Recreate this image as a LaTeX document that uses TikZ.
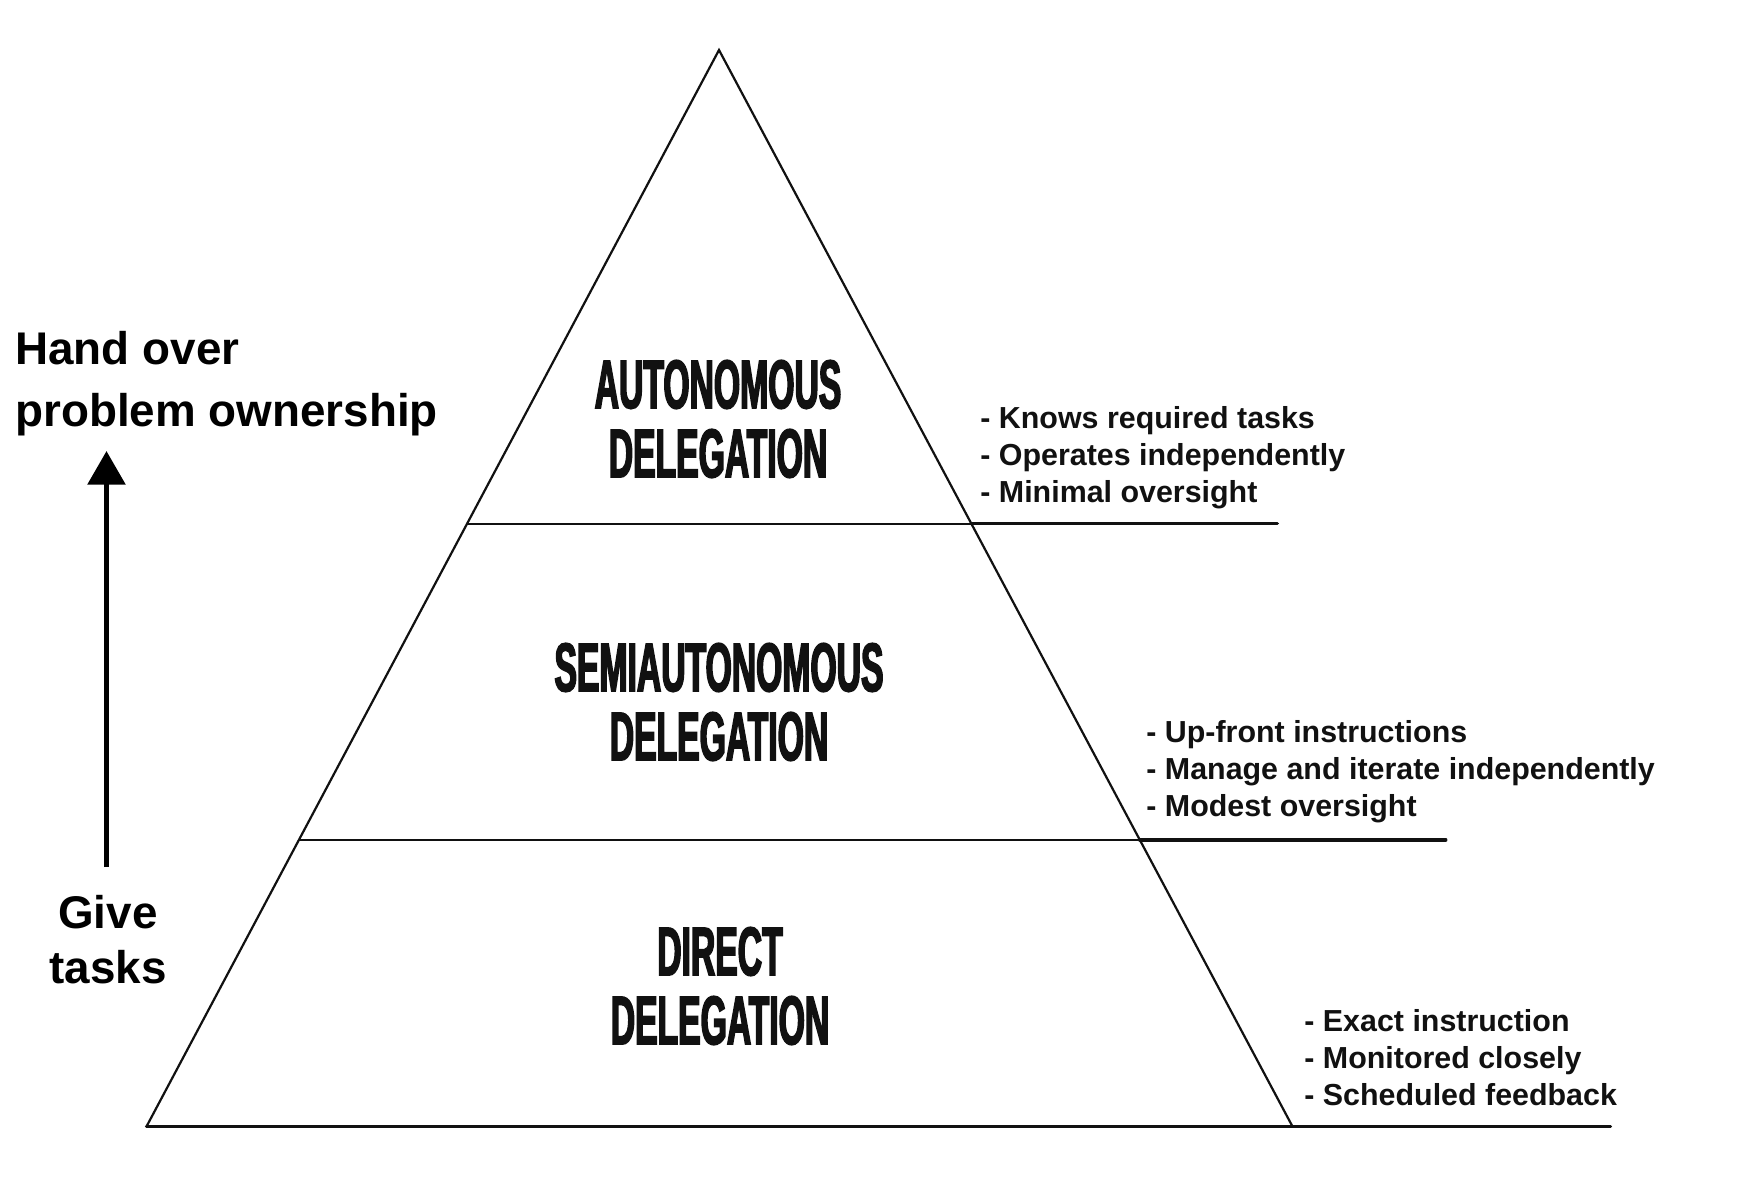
\documentclass[tikz,border=0pt]{standalone}
\usepackage{fontspec}
\setmainfont{Liberation Sans}
\newfontfamily\sideFont{Liberation Sans}
\newfontfamily\tierFont{Liberation Sans}[FakeStretch=0.49,FakeBold=2.2]
\usetikzlibrary{arrows.meta,calc}
\definecolor{ink}{HTML}{111111}
\tikzset{
  edge/.style={draw=ink,line width=1.1pt,line join=miter},
  extLine/.style={draw=ink,line width=1.7pt,line cap=round},
  tierLabel/.style={font=\tierFont\bfseries\fontsize{34.4}{34.5}\selectfont,align=center,inner sep=0pt,text=ink},
  sideLabel/.style={font=\sideFont\bfseries\fontsize{22.9}{31}\selectfont,inner sep=0pt,text=black},
  noteList/.style={font=\bfseries\fontsize{15.2}{18.5}\selectfont,align=left,anchor=west,inner sep=0pt,text=ink}
}

\begin{document}
\begin{tikzpicture}[x=0.5pt,y=-0.5pt]
  \useasboundingbox (0,0) rectangle (1758,1194);
  \coordinate (top) at (719,50);
  \coordinate (bl) at (146.5,1126.5);
  \coordinate (br) at (1292.5,1126.5);
  \coordinate (B0E) at ($(br)+(318,0)$);
  \foreach \n/\f in {1/0.560,2/0.2663}{
      \coordinate (T\n L) at ($(bl)!\f!(top)$);
      \coordinate (T\n R) at ($(br)!\f!(top)$);
      \coordinate (T\n E) at ($(T\n R)+(306,0)$);
      \draw[edge] (T\n L) -- (T\n R);
      \draw[extLine] (T\n R) -- (T\n E);
  }
  \draw[edge] (bl) -- (top) -- (br);
  \draw[extLine] (bl) -- (B0E);
  % tiers
  \node[tierLabel] (auto) at (718,419) {AUTONOMOUS\\DELEGATION};
  \node[tierLabel] (semi) at (719,702) {SEMIAUTONOMOUS\\DELEGATION};
  \node[tierLabel] (direct) at (720,986) {DIRECT\\DELEGATION};
  \node[noteList] (autoNotes) at (980,457.5) {- Knows required tasks\\- Operates independently\\- Minimal oversight};
  \node[noteList] (semiNotes) at (1146,772) {- Up-front instructions\\- Manage and iterate independently\\- Modest oversight};
  \node[noteList] (directNotes) at (1304,1057.5) {- Exact instruction\\- Monitored closely\\- Scheduled feedback};
  % side arrow
  \node[sideLabel,anchor=west,align=left] (own) at (15,384) {Hand over\\problem ownership};
  \node[sideLabel,align=center,font=\sideFont\bfseries\fontsize{22.9}{27.5}\selectfont] (give) at (108,940) {Give\\tasks};
  \coordinate (arrowFoot) at (106.5,867);
  \coordinate (arrowTip) at (106.5,451);
  \draw[line width=2.8pt,-{Triangle[length=16.8pt,width=18.5pt]}] (arrowFoot) -- (arrowTip);
\end{tikzpicture}
\end{document}
